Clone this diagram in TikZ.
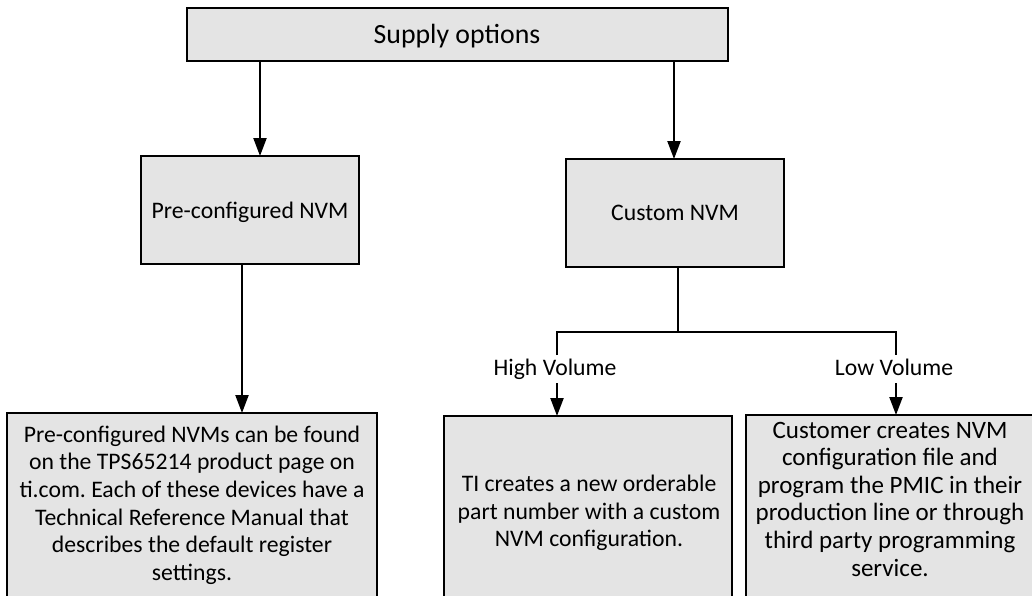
\documentclass[tikz,border=0pt]{standalone}
\usepackage{fontspec}
\setmainfont{Carlito}
\frenchspacing
\usetikzlibrary{arrows.meta}
\definecolor{boxfill}{HTML}{E4E4E4}
\begin{document}
\begin{tikzpicture}[x=1pt,y=-1pt,
  box/.style={draw=black, line width=2.6pt, fill=boxfill, inner sep=0pt, outer sep=0pt, anchor=north west},
  txt/.style={font=\fontsize{23.7}{27.6}\selectfont, align=center, inner sep=0pt},
  link/.style={line width=2.2pt},
  arr/.style={line width=2.2pt, -{Triangle[length=18pt,width=13pt]}}]
\useasboundingbox (0,0) rectangle (1032,595);
\clip (0,0) rectangle (1032,595);

% boxes
\node[box, minimum width=541pt, minimum height=53pt] (supply) at (187,8) {};
\node[box, minimum width=218pt, minimum height=108pt] (pre) at (141,156) {};
\node[box, minimum width=218pt, minimum height=108pt] (custom) at (566,159) {};
\node[box, minimum width=370pt, minimum height=230pt] (prenote) at (7,413) {};
\node[box, minimum width=288pt, minimum height=230pt] (highbox) at (444,416) {};
\node[box, minimum width=288pt, minimum height=230pt] (lowbox) at (746,415) {};

% box texts
\node[txt, font=\fontsize{27.8}{33}\selectfont, anchor=base] (supplylbl) at (457,43) {Supply options};
\node[txt, anchor=base] (prelbl) at (250,218) {Pre-configured NVM};
\node[txt, anchor=base] (customlbl) at (675,220) {Custom NVM};
\node[txt] (prenotelbl) at (192,505) {Pre-configured NVMs can be found\\on the TPS65214 product page on\\ti.com. Each of these devices have a\\Technical Reference Manual that\\describes the default register\\settings.};
\node[txt] (highlbl) at (589,513) {TI creates a new orderable\\part number with a custom\\NVM configuration.};
\node[txt, font=\fontsize{25}{27.6}\selectfont] (lowlbl) at (890,499) {Customer creates NVM\\configuration file and\\program the PMIC in their\\production line or through\\third party programming\\service.};

% connector anchor points
\coordinate (preIn) at ([xshift=10pt]pre.north);
\coordinate (customIn) at ([xshift=-1pt]custom.north);
\coordinate (preOut) at ([xshift=-8pt]pre.south);
\coordinate (customOut) at ([xshift=3pt]custom.south);
\coordinate (highIn) at ([xshift=-31pt]highbox.north);
\coordinate (lowIn) at ([xshift=6pt]lowbox.north);
\coordinate (branchY) at (0,332);
\coordinate (stubEnd) at (0,355);
\coordinate (arrStart) at (0,383);

% connectors
\draw[arr] (preIn |- supply.south) -- (preIn);
\draw[arr] (customIn |- supply.south) -- (customIn);
\draw[arr] (preOut) -- (preOut |- prenote.north);
\draw[link] (customOut) -- (customOut |- branchY);
\draw[link, line join=miter] (highIn |- stubEnd) -- (highIn |- branchY) -- (lowIn |- branchY) -- (lowIn |- stubEnd);
\draw[arr] (highIn |- arrStart) -- (highIn);
\draw[arr] (lowIn |- arrStart) -- (lowIn);

% branch labels
\node[txt, anchor=base] (highvol) at (555,375) {High Volume};
\node[txt, anchor=base] (lowvol) at (894,375) {Low Volume};
\end{tikzpicture}
\end{document}
